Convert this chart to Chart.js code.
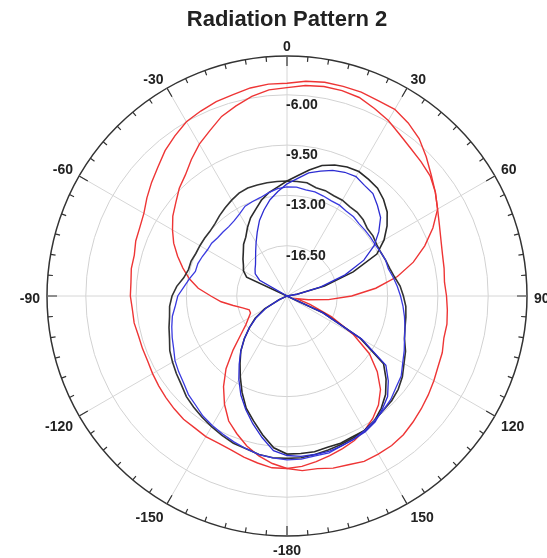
<!DOCTYPE html>
<html>
<head>
<meta charset="utf-8">
<title>Radiation Pattern 2</title>
<script src="https://cdn.jsdelivr.net/npm/chart.js@4.4.0/dist/chart.umd.min.js"></script>
<style>
  html, body { margin: 0; padding: 0; background: #fff; overflow: hidden; }
  #wrap { width: 547px; height: 558px; }
</style>
</head>
<body>
<div id="wrap"><canvas id="patronChart"></canvas></div>
<script>
// Ángulos de muestreo cada 5 grados (0 arriba, sentido horario)
const angleStep = 5;
const angles = [];
for (let a = 0; a < 360; a += angleStep) angles.push(a);

const angleTickLabels = ['0', '30', '60', '90', '120', '150', '-180', '-150', '-120', '-90', '-60', '-30'];
const radialTicks = [-20, -16.5, -13, -9.5, -6, -3.3];

// Valores en dB: 0..180 y luego -175..-5
const redOuter = [-5.2, -5.0, -4.9, -4.9, -4.9, -5.0, -5.0, -5.3, -5.7, -6.3, -6.9, -7.4, -7.9, -8.3, -8.6, -8.8, -8.9, -9.0, -8.9, -8.8, -8.7, -8.7, -8.5, -8.4, -8.2, -8.0, -7.8, -7.6, -7.4, -7.3, -7.3, -7.3, -7.5, -7.6, -7.8, -7.8, -8.0,
  -8.0, -8.2, -8.4, -8.6, -8.7, -8.7, -8.8, -8.8, -8.9, -9.0, -9.1, -9.2, -9.3, -9.3, -9.3, -9.2, -9.2, -9.1, -9.1, -9.0, -9.0, -8.8, -8.7, -8.5, -8.1, -7.7, -7.3, -6.8, -6.4, -6.0, -5.8, -5.6, -5.5, -5.3, -5.2];
const redInner = [-5.5, -5.3, -5.2, -5.2, -5.3, -5.6, -5.9, -6.3, -6.6, -6.8, -7.0, -7.4, -7.9, -8.8, -9.8, -10.9, -12.2, -13.8, -15.5, -17.1, -18.5, -19.3, -18.3, -16.6, -14.7, -13.0, -11.8, -10.8, -10.1, -9.6, -9.2, -8.9, -8.7, -8.5, -8.3, -8.1, -8.0,
  -8.3, -8.7, -9.2, -9.8, -10.4, -11.3, -12.3, -13.4, -14.7, -15.8, -16.5, -16.9, -17.2, -17.2, -16.8, -16.2, -15.4, -14.7, -13.8, -13.1, -12.5, -11.9, -11.3, -10.8, -10.3, -9.9, -9.4, -9.0, -8.4, -7.8, -7.3, -6.7, -6.3, -5.9, -5.6];
const blackLobe = [-12.0, -11.6, -11.1, -10.6, -10.3, -10.1, -10.0, -10.1, -10.2, -10.5, -10.9, -11.5, -12.2, -13.1, -15.1, -17.3, -19.3, -20, -20, -20, -20, -20, -20, -17.2, -14.1, -11.8, -11.0, -10.3, -9.8, -9.4, -9.2, -9.2, -9.1, -9.1, -9.0, -9.0, -9.0,
  -9.4, -10.2, -11.0, -11.7, -12.6, -13.5, -14.3, -15.0, -15.8, -16.6, -17.3, -18.2, -19.4, -20, -20, -20, -20, -20, -20, -20, -20, -20, -16.9, -16.5, -16.3, -16.0, -15.7, -15.3, -15.0, -14.5, -14.0, -13.6, -13.1, -12.7, -12.4];
const blackWide = [-12.0, -12.0, -12.0, -12.2, -12.2, -12.3, -12.3, -12.4, -12.4, -12.5, -12.7, -12.7, -12.8, -12.8, -12.7, -12.6, -12.4, -12.1, -11.9, -11.7, -11.6, -11.5, -11.3, -10.9, -10.6, -10.2, -9.9, -9.7, -9.6, -9.4, -9.2, -9.1, -9.0, -8.9, -8.8, -8.7, -8.7,
  -8.7, -8.8, -9.0, -9.1, -9.3, -9.5, -9.7, -9.9, -10.1, -10.4, -10.6, -10.8, -11.0, -11.3, -11.5, -11.7, -11.8, -12.0, -12.3, -12.7, -12.9, -12.9, -13.0, -13.0, -13.0, -13.0, -12.9, -12.7, -12.5, -12.3, -12.1, -12.0, -12.0, -12.0, -12.0];
const blueLobe = [-12.2, -11.8, -11.3, -11.0, -10.7, -10.5, -10.4, -10.6, -10.7, -11.1, -11.5, -12.2, -13.0, -14.1, -15.7, -17.6, -19.3, -20, -20, -20, -20, -20, -20, -17.3, -14.0, -11.6, -10.8, -10.1, -9.7, -9.3, -9.1, -9.0, -8.9, -8.8, -8.8, -8.8, -8.9,
  -9.2, -10.0, -10.8, -11.6, -12.4, -13.3, -14.2, -15.0, -15.8, -16.6, -17.4, -18.3, -19.4, -20, -20, -20, -20, -20, -20, -20, -20, -20, -20, -17.8, -17.3, -17.1, -16.9, -16.6, -16.2, -15.7, -15.1, -14.4, -13.8, -13.2, -12.7];
const blueWide = [-12.4, -12.4, -12.5, -12.5, -12.6, -12.7, -12.7, -12.8, -12.8, -12.9, -12.9, -12.9, -12.9, -12.8, -12.7, -12.7, -12.5, -12.3, -12.1, -11.9, -11.7, -11.5, -11.3, -11.0, -10.7, -10.3, -10.1, -9.8, -9.6, -9.4, -9.2, -9.0, -8.9, -8.7, -8.7, -8.6, -8.6,
  -8.7, -8.8, -9.0, -9.2, -9.4, -9.6, -9.8, -10.1, -10.3, -10.6, -10.8, -11.0, -11.3, -11.5, -11.7, -11.9, -12.2, -12.4, -12.8, -13.1, -13.4, -13.4, -13.5, -13.6, -13.6, -13.7, -13.7, -13.7, -13.6, -13.4, -13.1, -13.0, -12.9, -12.7, -12.5];

const labelFont = 'bold 14px "Liberation Sans", Arial, sans-serif';

// Marco polar: marcas del anillo exterior y etiquetas
const polarFrame = {
    id: 'polarFrame',
    beforeDatasetsDraw(chart) {
        const scale = chart.scales.r;
        const ctx = chart.ctx;
        const R = scale.drawingArea;
        ctx.save();

        ctx.strokeStyle = '#333';
        ctx.lineWidth = 1.2;
        ctx.beginPath();
        angles.forEach((a, i) => {
            const len = a % 30 === 0 ? 10 : 5;
            const p1 = scale.getPointPosition(i, R);
            const p2 = scale.getPointPosition(i, R - len);
            ctx.moveTo(p1.x, p1.y);
            ctx.lineTo(p2.x, p2.y);
        });
        ctx.stroke();

        ctx.font = labelFont;
        ctx.fillStyle = '#222';
        ctx.textBaseline = 'middle';

        ctx.textAlign = 'left';
        radialTicks.forEach(v => {
            if (v <= scale.min || v >= scale.max) return;
            const d = scale.getDistanceFromCenterForValue(v);
            ctx.fillText(v.toFixed(2), scale.xCenter - 1, scale.yCenter - d + 10);
        });

        // Etiquetas angulares: la esquina más cercana queda a R + 7
        ctx.textAlign = 'center';
        angleTickLabels.forEach((txt, k) => {
            const i = angles.indexOf(k * 30);
            const theta = scale.getIndexAngle(i);
            const sx = Math.sin(theta);
            const cy = Math.cos(theta);
            const w = ctx.measureText(txt).width;
            const p = scale.getPointPosition(i, R + 7);
            const ox = Math.abs(sx) < 0.01 ? 0 : Math.sign(sx) * w / 2;
            const oy = Math.abs(cy) < 0.01 ? 0 : -Math.sign(cy) * 5;
            ctx.fillText(txt, p.x + ox, p.y + oy + 3);
        });
        ctx.restore();
    }
};

function serie(label, data, color, width) {
    return {
        label: label,
        data: data,
        borderColor: color,
        backgroundColor: color,
        borderWidth: width,
        fill: false,
        pointRadius: 0,
        pointHitRadius: 0,
        tension: 0
    };
}

// Función para renderizar el diagrama polar
function renderPolarChart() {
    const ctx = document.getElementById('patronChart').getContext('2d');
    const outer = radialTicks.length - 1;

    new Chart(ctx, {
        type: 'radar',
        data: {
            labels: angles,
            datasets: [
                serie('Blue 1', blueLobe, '#2c2cd2', 1.3),
                serie('Blue 2', blueWide, '#3a3ae0', 1.3),
                serie('Black 1', blackLobe, '#2a2a2a', 1.6),
                serie('Black 2', blackWide, '#333333', 1.6),
                serie('Red 1', redOuter, '#ee3535', 1.4),
                serie('Red 2', redInner, '#ee3535', 1.4)
            ]
        },
        options: {
            responsive: true,
            maintainAspectRatio: false,
            animation: false,
            layout: { padding: { left: 47, right: 20, top: 0, bottom: 22 } },
            plugins: {
                legend: { display: false },
                tooltip: { enabled: false },
                title: {
                    display: true,
                    text: 'Radiation Pattern 2',
                    color: '#222',
                    font: { family: '"Liberation Sans", Arial, sans-serif', size: 22, weight: 'bold', lineHeight: '24px' },
                    padding: { top: 8, bottom: 24 }
                }
            },
            scales: {
                r: {
                    min: -20,
                    max: -3.3,
                    afterBuildTicks: (scale) => {
                        scale.ticks = radialTicks.map(v => ({ value: v }));
                    },
                    ticks: { display: false },
                    pointLabels: { display: false },
                    grid: {
                        circular: true,
                        color: (c) => c.index === outer ? '#333' : '#d2d2d2',
                        lineWidth: (c) => c.index === outer ? 1.5 : 1
                    },
                    angleLines: {
                        color: (c) => c.index % 6 === 0 ? '#d6d6d6' : 'rgba(0,0,0,0)',
                        lineWidth: 1
                    }
                }
            }
        },
        plugins: [polarFrame]
    });
}

document.addEventListener('DOMContentLoaded', () => {
    renderPolarChart();
});
</script>
</body>
</html>
